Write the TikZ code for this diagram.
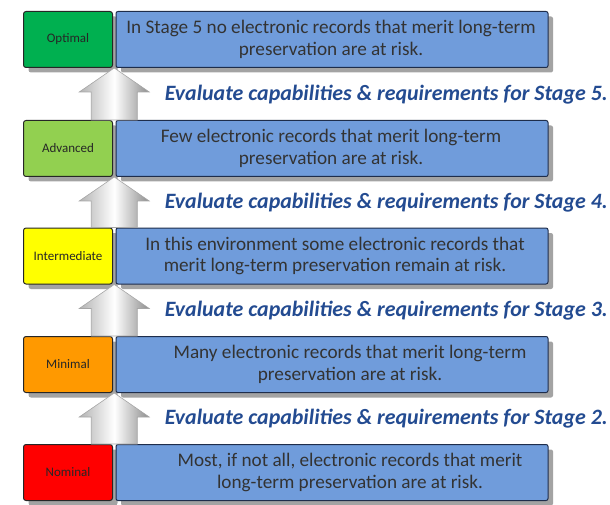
\documentclass[tikz,border=0pt]{standalone}
\usepackage{fontspec}
\setmainfont{Carlito}
\usetikzlibrary{shadows,calc}
\definecolor{boxblue}{RGB}{112,156,219}
\definecolor{boxedge}{RGB}{30,45,75}
\definecolor{evalblue}{RGB}{35,75,145}
\definecolor{cgreen}{RGB}{0,176,80}
\definecolor{clgreen}{RGB}{146,208,80}
\definecolor{cyellow}{RGB}{255,255,0}
\definecolor{corange}{RGB}{255,153,0}
\definecolor{cred}{RGB}{255,0,0}
\tikzset{
  shad/.style={drop shadow={shadow xshift=5pt,shadow yshift=-5pt,fill=black!45,opacity=0.8}},
  levelbox/.style={draw=black!85,line width=1pt,rounded corners=2.5pt,minimum width=89pt,minimum height=56pt,inner sep=0pt,text=black!85,font=\fontsize{13}{14}\selectfont,shad},
  descbox/.style={draw=boxedge,line width=1pt,fill=boxblue,rounded corners=2pt,minimum width=432pt,minimum height=56pt,inner sep=0pt,shad},
  desctext/.style={align=center,text=black!80,font=\fontsize{19.2}{21.5}\selectfont},
  evaltext/.style={text=evalblue,font=\fontsize{21.9}{24}\selectfont\bfseries\itshape,anchor=west},
  uparrow/.style={draw=black!35,line width=0.6pt,left color=black!30,right color=black!45,middle color=white}
}
\begin{document}
\begin{tikzpicture}[x=1pt,y=-1pt]
\useasboundingbox (0,0) rectangle (610,505);
\foreach \n/\yc/\col/\lab in {s5/39.5/cgreen/Optimal, s4/148.5/clgreen/Advanced, s3/256/cyellow/Intermediate, s2/364.5/corange/Minimal, s1/472.5/cred/Nominal}{
  \node[levelbox,fill=\col] (\n) at (68,\yc) {\lab};
  \node[descbox,anchor=west] (d\n) at (115.5,\yc) {};
}
\node[desctext] (t5) at (331,39.5) {In Stage 5 no electronic records that merit long-term\\preservation are at risk.};
\node[desctext] (t4) at (331,148.5) {Few electronic records that merit long-term\\preservation are at risk.};
\node[desctext] (t3) at (335,256) {In this environment some electronic records that\\merit long-term preservation remain at risk.};
\node[desctext] (t2) at (350,364.5) {Many electronic records that merit long-term\\preservation are at risk.};
\node[desctext] (t1) at (350,472.5) {Most, if not all, electronic records that merit\\long-term preservation are at risk.};
\foreach \lo/\hi/\k in {s4/s5/5, s3/s4/4, s2/s3/3, s1/s2/2}{
  \coordinate (tip\k) at ($(\hi.south east)!0.5!(d\hi.south west)$);
  \coordinate (base\k) at ($(\lo.north east)!0.5!(d\lo.north west)$);
  \draw[uparrow] (tip\k) -- ($(tip\k)+(35,24)$) -- ($(tip\k)+(23,24)$) -- ($(base\k)+(23,0)$)
     -- ($(base\k)+(-23,0)$) -- ($(tip\k)+(-23,24)$) -- ($(tip\k)+(-35,24)$) -- cycle;
  \node[evaltext] (e\k) at ($(tip\k)!0.5!(base\k)+(47,0.5)$) {Evaluate capabilities \& requirements for Stage \k.};
}
\end{tikzpicture}
\end{document}
